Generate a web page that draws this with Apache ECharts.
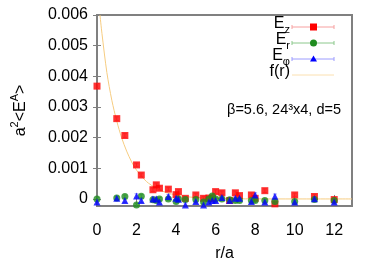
<!DOCTYPE html>
<html><head><meta charset="utf-8">
<script src="https://cdn.jsdelivr.net/npm/echarts@6/dist/echarts.min.js"></script>
<style>html,body{margin:0;padding:0;background:#fff}#c{width:382px;height:267px}</style>
</head><body><div id="c"></div>
<script>
// ---- data ----
const rVals = [0, 1, 1.41, 2, 2.24, 2.83, 3, 3.16, 3.61, 4, 4.12, 4.47, 5, 5.39, 5.66, 5.83, 6, 6.32, 6.71, 7, 7.21, 7.81, 8, 8.49, 9, 10, 11, 12];
const ezVals = [0.00368, 0.00262, 0.00207, 0.00111, 0.00078, 0.00030, 0.00046, 0.00035, 0.00032, 0.00014, 0.00024, 0.00002, 0.00013, 0.00002, 0.00003, 0.00002, 0.00024, 0.00020, -0.00005, 0.00020, 0.00011, 0.00013, 0.00002, 0.00027, -0.00016, 0.00013, 0.00008, -0.00002];
const erVals = [0.00000, 0.00003, 0.00008, -0.00020, 0.00009, -0.00003, -0.00005, 0.00000, 0.00000, -0.00008, 0.00000, -0.00002, -0.00002, -0.00010, 0.00000, 0.00010, 0.00000, 0.00000, -0.00003, -0.00005, -0.00005, -0.00005, -0.00005, -0.00005, -0.00008, -0.00008, -0.00002, -0.00005];
const epVals = [-0.00010, 0.00002, -0.00005, 0.00010, -0.00005, 0.00000, 0.00000, -0.00010, 0.00008, 0.00002, -0.00001, -0.00020, -0.00008, -0.00020, -0.00010, -0.00005, -0.00005, 0.00005, -0.00005, 0.00002, 0.00002, -0.00008, 0.00013, -0.00010, 0.00009, -0.00010, 0.00001, -0.00010];
const ezErr = [0.00008, 0.00006, 0.00006, 0.00006, 0.00006, 0.00006, 0.00006, 0.00006, 0.00006, 0.00006, 0.00006, 0.00006, 0.00006, 0.00006, 0.00006, 0.00006, 0.00006, 0.00006, 0.00006, 0.00006, 0.00006, 0.00006, 0.00006, 0.00006, 0.00006, 0.00006, 0.00006, 0.00006];
const erErr = [0.00005, 0.00005, 0.00005, 0.00005, 0.00005, 0.00005, 0.00005, 0.00005, 0.00005, 0.00005, 0.00005, 0.00005, 0.00005, 0.00005, 0.00005, 0.00005, 0.00005, 0.00005, 0.00005, 0.00005, 0.00005, 0.00005, 0.00005, 0.00005, 0.00005, 0.00005, 0.00005, 0.00005];
const epErr = [0.00007, 0.00007, 0.00007, 0.00007, 0.00007, 0.00007, 0.00007, 0.00007, 0.00007, 0.00007, 0.00007, 0.00007, 0.00007, 0.00007, 0.00007, 0.00007, 0.00007, 0.00007, 0.00007, 0.00007, 0.00007, 0.00007, 0.00007, 0.00007, 0.00007, 0.00007, 0.00007, 0.00007];
// fit curve f(r)
const fitR = [0.15, 0.25, 0.5, 0.75, 1, 1.25, 1.5, 1.75, 2, 2.5, 3, 3.5, 4, 4.5, 5, 6, 7, 8, 10, 12.9];
const fitV = [0.0060, 0.00540, 0.00412, 0.00322, 0.00254, 0.00199, 0.00156, 0.00121, 0.00094, 0.00057, 0.00035, 0.00021, 0.00013, 0.000077, 0.000047, 0.000017, 0.000006, 0.000002, 0.0, 0.0];
const xTicks = [0, 2, 4, 6, 8, 10, 12];
const yTicks = [0, 0.001, 0.002, 0.003, 0.004, 0.005, 0.006];
const yTickLabels = ['0', '0.001', '0.002', '0.003', '0.004', '0.005', '0.006'];
const legendNames = ['E_z', 'E_r', 'E_φ', 'f(r)'];

const FONT = 'Liberation Sans';
const chart = echarts.init(document.getElementById('c'), null, {renderer: 'canvas'});

function pts(vals, errs) { return rVals.map((r, i) => [r, vals[i], errs[i]]); }
function errSeries(vals, errs, color) {
  return {
    type: 'custom', z: 2, silent: true, clip: true,
    data: pts(vals, errs),
    encode: {x: 0, y: 1},
    renderItem: function (params, api) {
      const x = api.value(0), y = api.value(1), e = api.value(2);
      const lo = api.coord([x, y - e]), hi = api.coord([x, y + e]);
      const c = 2;
      const st = {stroke: color, lineWidth: 1};
      return {type: 'group', children: [
        {type: 'line', shape: {x1: lo[0], y1: lo[1], x2: hi[0], y2: hi[1]}, style: st},
        {type: 'line', shape: {x1: lo[0] - c, y1: lo[1], x2: lo[0] + c, y2: lo[1]}, style: st},
        {type: 'line', shape: {x1: hi[0] - c, y1: hi[1], x2: hi[0] + c, y2: hi[1]}, style: st}
      ]};
    }
  };
}

const colZ = '#ff0000', colR = '#1f8c1f', colP = '#0000ff', colF = '#f6cc80';
const axisFont = {fontFamily: FONT, fontSize: 16, color: '#000'};

const option = {
  animation: false,
  grid: {left: 97, right: 30, top: 15, bottom: 60, show: true, borderColor: '#808080', borderWidth: 2, backgroundColor: 'transparent'},
  xAxis: [{
    type: 'value', min: 0, max: 12.9, position: 'bottom',
    name: 'r/a', nameLocation: 'middle', nameGap: 40,
    nameTextStyle: {fontFamily: FONT, fontSize: 16, color: '#000'},
    axisLine: {show: false}, splitLine: {show: false},
    axisTick: {inside: true, length: 4, lineStyle: {color: '#808080'}, customValues: xTicks},
    axisLabel: Object.assign({margin: 17, customValues: xTicks}, axisFont)
  }, {
    type: 'value', min: 0, max: 12.9, position: 'top',
    axisLine: {show: false}, splitLine: {show: false},
    axisTick: {inside: true, length: 4, lineStyle: {color: '#808080'}, customValues: xTicks},
    axisLabel: {show: false}
  }],
  yAxis: [{
    type: 'value', min: -0.00023, max: 0.006, position: 'left',
    name: '{n|a}{s|2}{n|<E}{s|A}{n|>}', nameLocation: 'middle', nameGap: 64, nameRotate: 90,
    nameTextStyle: {fontFamily: FONT, fontSize: 16, color: '#000',
      rich: {n: {fontFamily: FONT, fontSize: 16, lineHeight: 24, verticalAlign: 'middle'},
             s: {fontFamily: FONT, fontSize: 11, verticalAlign: 'top'}}},
    axisLine: {show: false}, splitLine: {show: false},
    axisTick: {inside: true, length: 4, lineStyle: {color: '#808080'}, customValues: yTicks},
    axisLabel: Object.assign({margin: 9, customValues: yTicks,
      formatter: function (v) { const i = yTicks.findIndex(t => Math.abs(t - v) < 1e-9); return i >= 0 ? yTickLabels[i] : ''; }}, axisFont)
  }, {
    type: 'value', min: -0.00023, max: 0.006, position: 'right',
    axisLine: {show: false}, splitLine: {show: false},
    axisTick: {inside: true, length: 4, lineStyle: {color: '#808080'}, customValues: yTicks},
    axisLabel: {show: false}
  }],
  series: [
    {type: 'line', name: legendNames[3], z: 1, data: fitR.map((r, i) => [r, fitV[i]]), smooth: 0.3, showSymbol: false, symbol: 'none',
     lineStyle: {color: colF, width: 1}, clip: true, silent: true},
    errSeries(ezVals, ezErr, '#f7a0a0'),
    errSeries(erVals, erErr, '#8cc88c'),
    errSeries(epVals, epErr, '#9c9cff'),
    {type: 'scatter', name: legendNames[0], z: 3, symbol: 'rect', symbolSize: 7, itemStyle: {color: colZ}, data: pts(ezVals, ezErr), encode: {x: 0, y: 1}},
    {type: 'scatter', name: legendNames[1], z: 4, symbol: 'circle', symbolSize: 7, itemStyle: {color: colR}, data: pts(erVals, erErr), encode: {x: 0, y: 1}},
    {type: 'scatter', name: legendNames[2], z: 5, symbol: 'triangle', symbolSize: 7, itemStyle: {color: colP}, data: pts(epVals, epErr), encode: {x: 0, y: 1}}
  ],
  graphic: {elements: []}
};

// legend (gnuplot style: text at left, sample at right)
const rich = {e: {fontFamily: FONT, fontSize: 16, lineHeight: 22, verticalAlign: 'middle', fill: '#000'},
              s: {fontFamily: FONT, fontSize: 11, verticalAlign: 'bottom', fill: '#000'}};
const legendRows = [
  {text: '{e|E}{s|z}', line: '#f7a0a0', mark: 'rect', col: colZ},
  {text: '{e|E}{s|r}', line: '#8cc88c', mark: 'circle', col: colR},
  {text: '{e|E}{s|φ}', line: '#9c9cff', mark: 'triangle', col: colP},
  {text: '{e|f(r)}', line: '#fbe0b0', mark: null, col: null}
];
const lx0 = 292, lx1 = 334, ly0 = 27, ldy = 16;
legendRows.forEach((row, i) => {
  const y = ly0 + i * ldy;
  option.graphic.elements.push({type: 'text', right: 382 - 290, top: y - 11, style: {text: row.text, rich: rich, textAlign: 'right'}, z: 100});
  option.graphic.elements.push({type: 'line', shape: {x1: lx0, y1: y, x2: lx1, y2: y}, style: {stroke: row.line, lineWidth: 1}, z: 100});
  if (row.mark) {
    option.graphic.elements.push({type: 'line', shape: {x1: lx0, y1: y - 2, x2: lx0, y2: y + 2}, style: {stroke: row.line, lineWidth: 1}, z: 100});
    option.graphic.elements.push({type: 'line', shape: {x1: lx1, y1: y - 2, x2: lx1, y2: y + 2}, style: {stroke: row.line, lineWidth: 1}, z: 100});
    let m;
    if (row.mark === 'rect') m = {type: 'rect', shape: {x: 310, y: y - 3.5, width: 7, height: 7}};
    else if (row.mark === 'circle') m = {type: 'circle', shape: {cx: 313.5, cy: y, r: 3.5}};
    else m = {type: 'polygon', shape: {points: [[313.5, y - 3.5], [317, y + 2.5], [310, y + 2.5]]}};
    m.style = {fill: row.col}; m.z = 101;
    option.graphic.elements.push(m);
  }
});
option.graphic.elements.push({type: 'text', right: 382 - 341, top: 102, style: {text: 'β=5.6, 24³x4, d=5', font: '14.5px "Liberation Sans"', fill: '#000', textAlign: 'right'}, z: 100});

chart.setOption(option);
</script></body></html>
